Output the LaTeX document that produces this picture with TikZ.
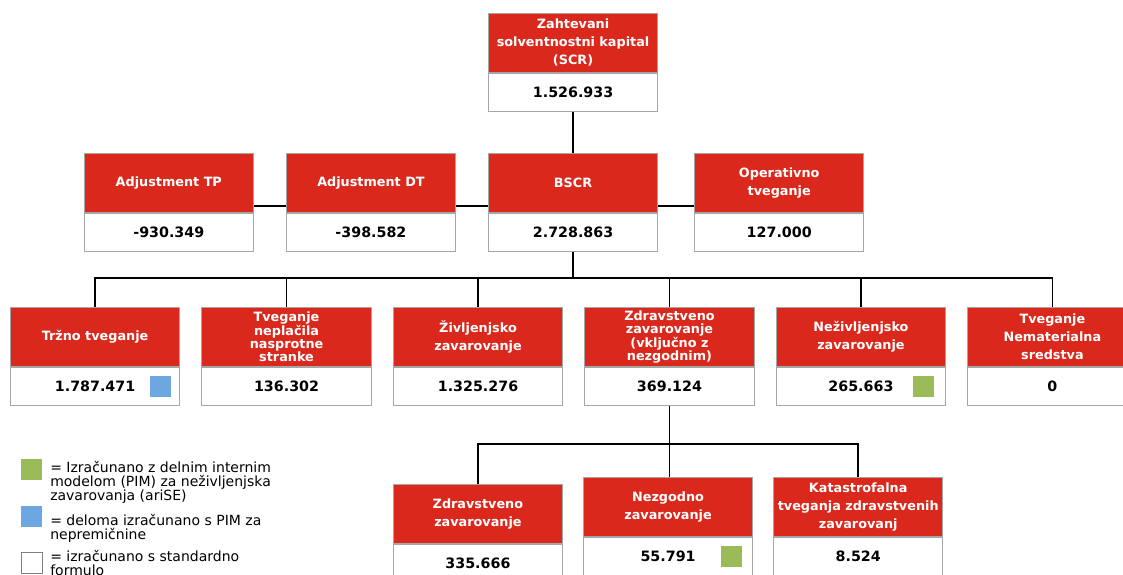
\documentclass[tikz,border=0pt]{standalone}
\usepackage{fontspec}
\setmainfont{DejaVu Sans}
\usetikzlibrary{positioning, calc}

\definecolor{tvred}{RGB}{218,41,28}
\definecolor{boxgray}{RGB}{166,166,166}
\definecolor{pimgreen}{RGB}{155,187,89}
\definecolor{pimblue}{RGB}{108,167,225}

\newcommand{\hdrfont}{\fontsize{9.6}{13.5}\selectfont\bfseries}
\newcommand{\hdrtight}{\fontsize{9.6}{10}\selectfont\bfseries}
\newcommand{\valfont}{\fontsize{10.7}{12}\selectfont\bfseries}
\newcommand{\legfont}{\fontsize{10.5}{10.5}\selectfont}

\begin{document}
\begin{tikzpicture}[
			x=0.75pt, y=-0.75pt,
			hdr/.style={rectangle, draw=boxgray, line width=0.6pt, fill=tvred, text=white, font=\hdrfont, minimum width=127pt, minimum height=44.25pt, align=center, inner sep=1pt},
			val/.style={rectangle, draw=boxgray, line width=0.6pt, fill=white, font=\valfont, minimum width=127pt, minimum height=28.5pt, inner sep=1pt},
			conn/.style={draw=black, line width=1.3pt},
			sq/.style={rectangle, minimum size=15.75pt, inner sep=0pt},
			leg/.style={font=\legfont, align=left, inner sep=0pt, anchor=north west}
			]
			\useasboundingbox (0,0) rectangle (1123,574);
			
			% SCR on top
			\node[hdr, anchor=north west] (scrhead) at (488,13) {Zahtevani\\solventnostni kapital\\(SCR)};
			\node[val, below=0pt of scrhead] (scrval) {1.526.933};
			
			% BSCR row
			\node[hdr, anchor=north west] (bscrhead) at (488,153) {BSCR};
			\node[hdr, left=24pt of bscrhead] (dthead) {Adjustment DT};
			\node[hdr, left=24pt of dthead] (tphead) {Adjustment TP};
			\node[hdr, right=27pt of bscrhead] (ophead) {Operativno\\tveganje};
			\node[val, below=0pt of bscrhead] (bscrval) {2.728.863};
			\node[val, below=0pt of dthead] (dtval) {-398.582};
			\node[val, below=0pt of tphead] (tpval) {-930.349};
			\node[val, below=0pt of ophead] (opval) {127.000};
			
			% risk modules
			\node[hdr, anchor=north west] (trzhead) at (10,307) {Tržno tveganje};
			\node[hdr, font=\hdrtight, right=16pt of trzhead] (nephead) {Tveganje\\neplačila\\nasprotne\\stranke};
			\node[hdr, right=16pt of nephead] (zivhead) {Življenjsko\\zavarovanje};
			\node[hdr, font=\hdrtight, right=16pt of zivhead] (zdvhead) {Zdravstveno\\zavarovanje\\(vključno z\\nezgodnim)};
			\node[hdr, right=16pt of zdvhead] (nezivhead) {Neživljenjsko\\zavarovanje};
			\node[hdr, right=16pt of nezivhead] (nemhead) {Tveganje\\Nematerialna\\sredstva};
			\node[val, below=0pt of trzhead] (trzval) {1.787.471};
			\node[val, below=0pt of nephead] (nepval) {136.302};
			\node[val, below=0pt of zivhead] (zivval) {1.325.276};
			\node[val, below=0pt of zdvhead] (zdvval) {369.124};
			\node[val, below=0pt of nezivhead] (nezivval) {265.663};
			\node[val, below=0pt of nemhead] (nemval) {0};
			
			% health sub-modules
			\node[hdr, anchor=north west] (nezhead) at (583,477) {Nezgodno\\zavarovanje};
			\node[hdr, left=15pt of nezhead, yshift=-5.25pt] (zdrhead) {Zdravstveno\\zavarovanje};
			\node[hdr, right=15pt of nezhead] (kathead) {Katastrofalna\\tveganja zdravstvenih\\zavarovanj};
			\node[val, below=0pt of zdrhead] (zdrval) {335.666};
			\node[val, below=0pt of nezhead] (nezval) {55.791};
			\node[val, below=0pt of kathead] (katval) {8.524};
			
			% PIM markers
			\node[sq, fill=pimblue] (trzsq) at ($(trzval.east)+(-20,0)$) {};
			\node[sq, fill=pimgreen] (nezivsq) at ($(nezivval.east)+(-23,0)$) {};
			\node[sq, fill=pimgreen] (nezsq) at ($(nezval.east)+(-22,0)$) {};
			
			% connectors
			\coordinate (tie) at (0,206);
			\coordinate (bus) at (0,278);
			\coordinate (bus2) at (0,444);
			\draw[conn] (scrval.south) -- (bscrhead.north);
			\draw[conn] (tphead.east |- tie) -- (dthead.west |- tie);
			\draw[conn] (dthead.east |- tie) -- (bscrhead.west |- tie);
			\draw[conn] (bscrhead.east |- tie) -- (ophead.west |- tie);
			\draw[conn] (bscrval.south) -- (bscrval.south |- bus);
			\draw[conn] (trzhead.north) |- (nemhead.north |- bus) -- (nemhead.north);
			\foreach \m in {nephead, zivhead, zdvhead, nezivhead}
				\draw[conn] (\m.north) -- (\m.north |- bus);
			\draw[conn] (zdvval.south) -- (zdvval.south |- nezhead.north);
			\draw[conn] (zdrhead.north) |- (kathead.north |- bus2) -- (kathead.north);
			
			% legend
			\node[sq, fill=pimgreen, anchor=north west] (leggreen) at (21,459) {};
			\node[leg] (leggreentxt) at (50,461) {= Izračunano z delnim internim\\modelom (PIM) za neživljenjska\\zavarovanja (ariSE)};
			\node[sq, fill=pimblue, anchor=north west] (legblue) at (21,506) {};
			\node[leg] (legbluetxt) at (50,514) {= deloma izračunano s PIM za\\nepremičnine};
			\node[sq, draw=gray, line width=0.8pt, fill=white, anchor=north west] (legwhite) at (21,552) {};
			\node[leg] (legwhitetxt) at (50,550) {= izračunano s standardno\\formulo};
			
		\end{tikzpicture}
\end{document}
